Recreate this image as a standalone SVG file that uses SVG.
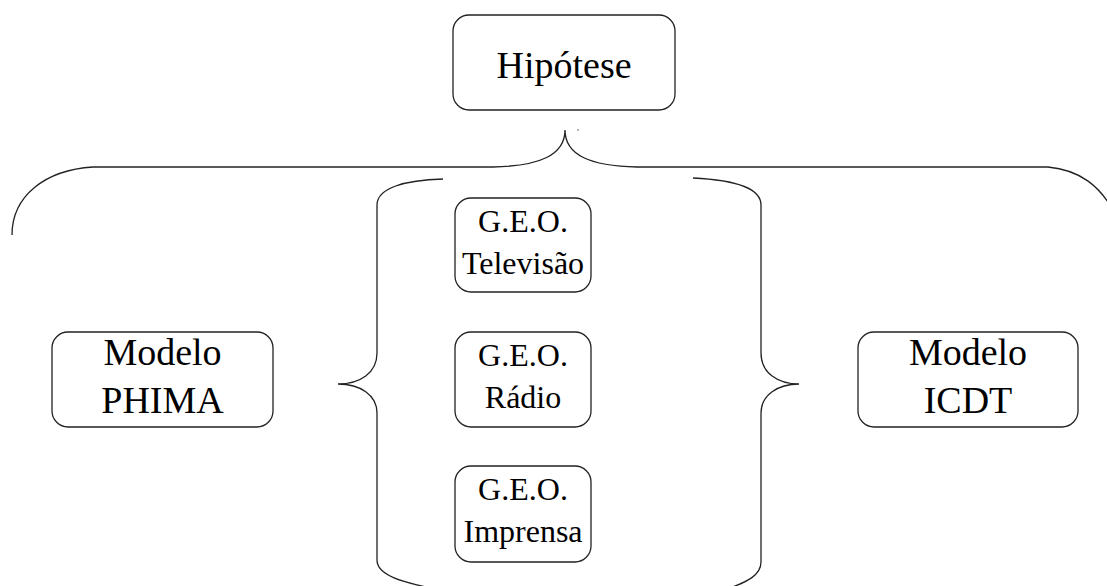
<svg xmlns="http://www.w3.org/2000/svg" width="1107" height="586" viewBox="0 0 1107 586">
  <style>
    .box { fill: #fff; stroke: #222; stroke-width: 1.3; }
    .lbl { font-family: "Liberation Serif", "Times New Roman", serif; fill: #000; text-anchor: middle; }
    .big { font-size: 38px; }
    .small { font-size: 32px; }
    .brace { fill: none; stroke: #222; stroke-width: 1.3; }
  </style>
  <rect width="1107" height="586" fill="#fff"/>

  <!-- braces -->
  <g id="connectors">
    <!-- wide brace under the hypothesis -->
    <path class="brace" d="M12,235 C12,196 45,170 93,167 L493,167 C540,166 565,155 565,130 C565,155 590,166 637,167 L1048,167 C1080,170 1100,186 1114,212"/>
    <circle cx="578" cy="130" r="0.8" fill="#555"/>
    <!-- left brace around the G.E.O. group -->
    <path class="brace" d="M443,179 C405,180 377,188 377,205 L377,353 C377,373 360,384 338,384 C360,384 377,395 377,413 L377,560 C377,575 400,582 440,590"/>
    <!-- right brace around the G.E.O. group -->
    <path class="brace" d="M693,178 C735,180 761,188 761,205 L761,353 C761,373 778,384 799,384 C778,384 761,395 761,413 L761,562 C761,575 748,582 724,590"/>
  </g>

  <g id="hipotese">
    <rect class="box" x="453" y="15" width="222" height="95" rx="16"/>
    <text class="lbl big" x="564" y="78">Hipótese</text>
  </g>

  <g id="modelo-phima">
    <rect class="box" x="52" y="332" width="221" height="95" rx="16"/>
    <text class="lbl big" x="162.5" y="365">Modelo</text>
    <text class="lbl big" x="162.5" y="413">PHIMA</text>
  </g>

  <g id="modelo-icdt">
    <rect class="box" x="858" y="332" width="220" height="95" rx="16"/>
    <text class="lbl big" x="968" y="365">Modelo</text>
    <text class="lbl big" x="968" y="413">ICDT</text>
  </g>

  <g id="geo-televisao">
    <rect class="box" x="455" y="198" width="136" height="94" rx="16"/>
    <text class="lbl small" x="523" y="232">G.E.O.</text>
    <text class="lbl small" x="523" y="274">Televisão</text>
  </g>

  <g id="geo-radio">
    <rect class="box" x="455" y="332" width="136" height="95" rx="16"/>
    <text class="lbl small" x="523" y="366">G.E.O.</text>
    <text class="lbl small" x="523" y="408">Rádio</text>
  </g>

  <g id="geo-imprensa">
    <rect class="box" x="455" y="466" width="136" height="96" rx="16"/>
    <text class="lbl small" x="523" y="500">G.E.O.</text>
    <text class="lbl small" x="523" y="542">Imprensa</text>
  </g>
</svg>
